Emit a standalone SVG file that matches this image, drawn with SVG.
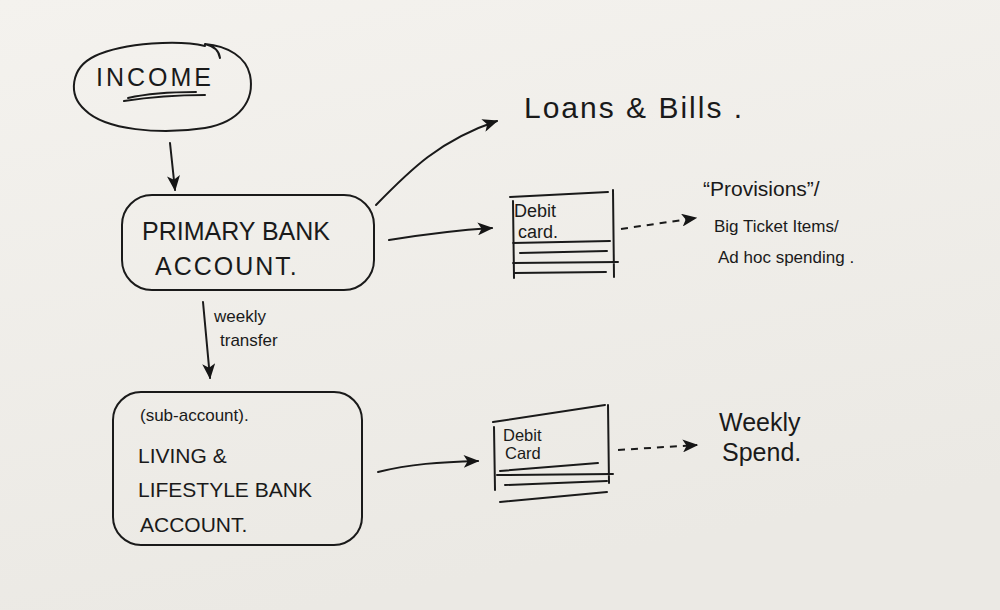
<svg xmlns="http://www.w3.org/2000/svg" width="1000" height="610" viewBox="0 0 1000 610">
<defs>
<linearGradient id="bg" x1="0" y1="0" x2="0.3" y2="1">
<stop offset="0" stop-color="#f4f2ee"/>
<stop offset="1" stop-color="#ebe9e4"/>
</linearGradient>
<marker id="ah" viewBox="0 0 12 10" refX="11" refY="5" markerWidth="16" markerHeight="13" markerUnits="userSpaceOnUse" orient="auto">
<path d="M0,0 L12,5 L0,10 L3,5 Z" fill="#151515"/>
</marker>
</defs>
<style>
.ln{fill:none;stroke:#1a1a1a;stroke-width:2;stroke-linecap:round;stroke-linejoin:round}
.dash{fill:none;stroke:#1a1a1a;stroke-width:2;stroke-dasharray:7 6}
text{font-family:"Liberation Sans","DejaVu Sans",sans-serif;fill:#1a1a1a}
.big{font-size:25px}
.med{font-size:21px}
.sm{font-size:17px}
.cd{font-size:18px}
.cd2{font-size:16.5px}
</style>
<rect width="1000" height="610" fill="url(#bg)"/>

<g id="income">
<path class="ln" d="M205,46 C180,40 125,42 95,56 C70,68 68,95 85,110 C105,130 160,135 205,128 C240,122 255,100 250,75 C246,57 228,46 205,44 C214,46 219,51 220,58"/>
<text class="big" x="96" y="86" letter-spacing="3">INCOME</text>
<path class="ln" d="M124,101 C150,97 180,95 205,95 M128,98 C150,93 175,92 196,92"/>
</g>

<g id="primary">
<rect class="ln" x="122" y="195" width="252" height="95" rx="30"/>
<text class="big" x="142" y="240">PRIMARY BANK</text>
<text class="big" x="155" y="275" letter-spacing="2">ACCOUNT.</text>
</g>

<g id="loans">
<text x="524" y="118" font-size="30" letter-spacing="2">Loans &amp; Bills  .</text>
</g>

<g id="card1">
<path class="ln" d="M510,197 L608,192 M613,190 L614,277 M513,201 L514,278 M513,243 L610,241 M520,253 L607,251 M513,263 L618,262 M514,273 L606,272"/>
<text class="cd" x="514" y="217">Debit</text>
<text class="cd" x="518" y="238">card.</text>
</g>

<g id="provisions">
<text class="med" x="703" y="196">“Provisions”/</text>
<text class="sm" x="714" y="232">Big Ticket Items/</text>
<text class="sm" x="718" y="263">Ad hoc spending .</text>
</g>

<g id="sub">
<rect class="ln" x="113" y="392" width="249" height="153" rx="28"/>
<text class="sm" x="140" y="421">(sub-account).</text>
<text class="med" x="138" y="463">LIVING &amp;</text>
<text class="med" x="138" y="497">LIFESTYLE BANK</text>
<text class="med" x="140" y="532">ACCOUNT.</text>
</g>

<g id="card2">
<path class="ln" d="M493,422 L605,405 M608,405 L609,483 M494,427 L495,490 M500,471 L598,463 M497,475 L613,474 M505,485 L607,481 M500,502 L607,492"/>
<text class="cd2" x="503" y="441">Debit</text>
<text class="cd2" x="505" y="459">Card</text>
</g>

<g id="weekly">
<text class="big" x="719" y="431">Weekly</text>
<text class="big" x="722" y="461">Spend.</text>
</g>

<g id="connectors">
<path class="ln" d="M170,143 L175,190" marker-end="url(#ah)"/>
<path class="ln" d="M376,205 C410,170 440,140 497,121" marker-end="url(#ah)"/>
<path class="ln" d="M389,240 C420,235 460,230 492,228" marker-end="url(#ah)"/>
<path class="dash" d="M621,229 L696,218" marker-end="url(#ah)"/>
<path class="ln" d="M203,302 L210,378" marker-end="url(#ah)"/>
<text class="sm" x="214" y="322">weekly</text>
<text class="sm" x="220" y="346">transfer</text>
<path class="ln" d="M378,472 C410,464 440,462 478,461" marker-end="url(#ah)"/>
<path class="dash" d="M618,450 L697,445" marker-end="url(#ah)"/>
</g>
</svg>
